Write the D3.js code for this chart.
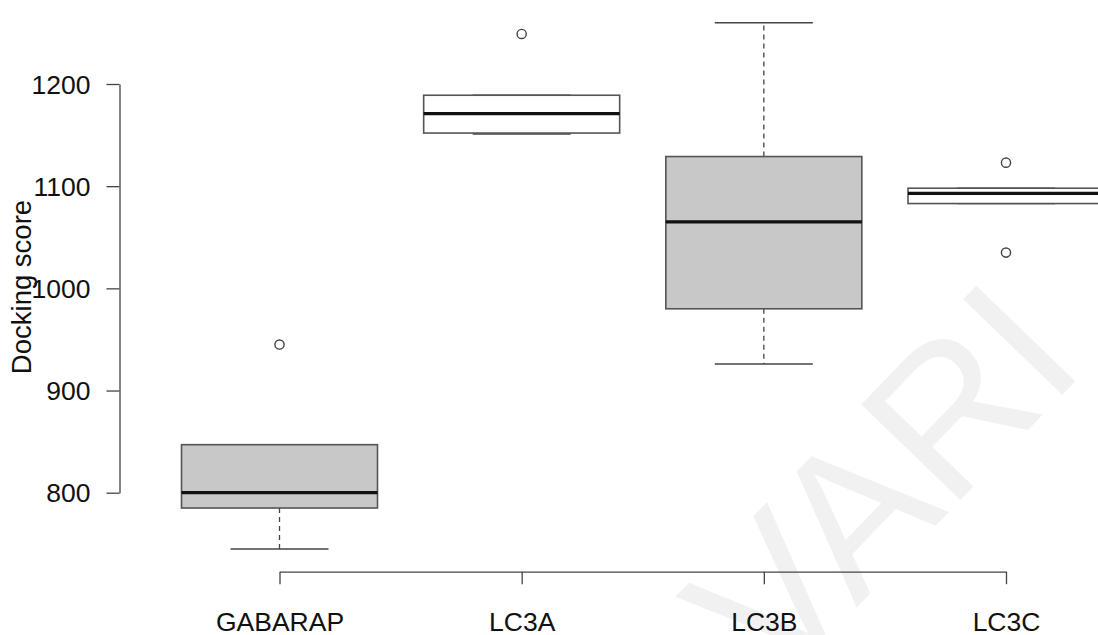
<!DOCTYPE html>
<html>
<head>
<meta charset="utf-8">
<script src="https://cdn.jsdelivr.net/npm/d3@7"></script>
<style>
  body { margin: 0; background: #fff; }
  svg { display: block; font-family: "Liberation Sans", Arial, Helvetica, sans-serif; }
  .axis path, .axis line { stroke: #444; stroke-width: 1.3; }
  .axis text { fill: #111; font-size: 26.5px; }
</style>
</head>
<body>
<div id="chart"></div>
<script>
// data
var categories = ['GABARAP', 'LC3A', 'LC3B', 'LC3C'];
var whiskerLow = [745, 1151, 926, 1083];
var q1 = [785, 1152, 980, 1083];
var median = [800, 1171, 1065, 1093];
var q3 = [847, 1189, 1129, 1098];
var whiskerHigh = [847, 1189, 1260, 1098];
var outliers = [[945], [1249], [], [1123, 1035]];
var boxFill = ['#c8c8c8', '#ffffff', '#c8c8c8', '#ffffff'];
var yTicks = [800, 900, 1000, 1100, 1200];

var width = 1098, height = 635;
var boxHalf = 98, stapleHalf = 49;

var svg = d3.select('#chart').append('svg')
    .attr('width', width)
    .attr('height', height);

var xScale = d3.scalePoint()
    .domain(categories)
    .range([279.5, 1006]);
var yScale = d3.scaleLinear()
    .domain([800, 1200])
    .range([492.7, 84]);

// watermark behind the plot
svg.append('text')
    .attr('transform', 'translate(1088,368) rotate(-46)')
    .attr('text-anchor', 'end')
    .style('font-size', '200px')
    .style('fill', '#f1f1f1')
    .text('VARI');

var boxes = categories.map(function(c, i) {
    return { name: c, lo: whiskerLow[i], q1: q1[i], med: median[i], q3: q3[i],
             hi: whiskerHigh[i], out: outliers[i], fill: boxFill[i] };
});

var g = svg.selectAll('g.box')
    .data(boxes).enter().append('g')
    .attr('class', 'box')
    .attr('transform', d => `translate(${xScale(d.name)},0)`);

// dashed whiskers
g.append('line')
    .attr('y1', d => yScale(d.q3)).attr('y2', d => yScale(d.hi))
    .attr('stroke', '#444').attr('stroke-width', 1.3)
    .attr('stroke-dasharray', '5,4');
g.append('line')
    .attr('y1', d => yScale(d.q1)).attr('y2', d => yScale(d.lo))
    .attr('stroke', '#444').attr('stroke-width', 1.3)
    .attr('stroke-dasharray', '5,4');
// staples
g.append('line')
    .attr('x1', -stapleHalf).attr('x2', stapleHalf)
    .attr('y1', d => yScale(d.hi)).attr('y2', d => yScale(d.hi))
    .attr('stroke', '#444').attr('stroke-width', 1.5);
g.append('line')
    .attr('x1', -stapleHalf).attr('x2', stapleHalf)
    .attr('y1', d => yScale(d.lo)).attr('y2', d => yScale(d.lo))
    .attr('stroke', '#444').attr('stroke-width', 1.5);
// box
g.append('rect')
    .attr('x', -boxHalf).attr('width', boxHalf * 2)
    .attr('y', d => yScale(d.q3))
    .attr('height', d => yScale(d.q1) - yScale(d.q3))
    .attr('fill', d => d.fill)
    .attr('stroke', '#555').attr('stroke-width', 1.6);
// median
g.append('line')
    .attr('x1', -boxHalf).attr('x2', boxHalf)
    .attr('y1', d => yScale(d.med)).attr('y2', d => yScale(d.med))
    .attr('stroke', '#111').attr('stroke-width', 3.2);
// outliers
g.selectAll('circle')
    .data(d => d.out).enter().append('circle')
    .attr('cy', d => yScale(d))
    .attr('r', 4.6)
    .attr('fill', 'none')
    .attr('stroke', '#444').attr('stroke-width', 1.4);

// axes
svg.append('g')
    .attr('class', 'axis')
    .attr('transform', 'translate(119.5,0)')
    .call(d3.axisLeft(yScale).tickValues(yTicks).tickFormat(d3.format('d'))
        .tickSize(13).tickSizeOuter(0).tickPadding(16))
    .selectAll('text').attr('dy', '0.35em');

var xAxis = svg.append('g')
    .attr('class', 'axis')
    .attr('transform', 'translate(0,571.7)')
    .call(d3.axisBottom(xScale).tickSize(12.5).tickSizeOuter(0).tickPadding(0));
xAxis.selectAll('text').attr('y', 59).attr('dy', 0);

svg.append('text')
    .attr('transform', 'translate(31,287) rotate(-90)')
    .attr('text-anchor', 'middle')
    .style('font-size', '27.5px')
    .style('fill', '#111')
    .text('Docking score');
</script>
</body>
</html>
